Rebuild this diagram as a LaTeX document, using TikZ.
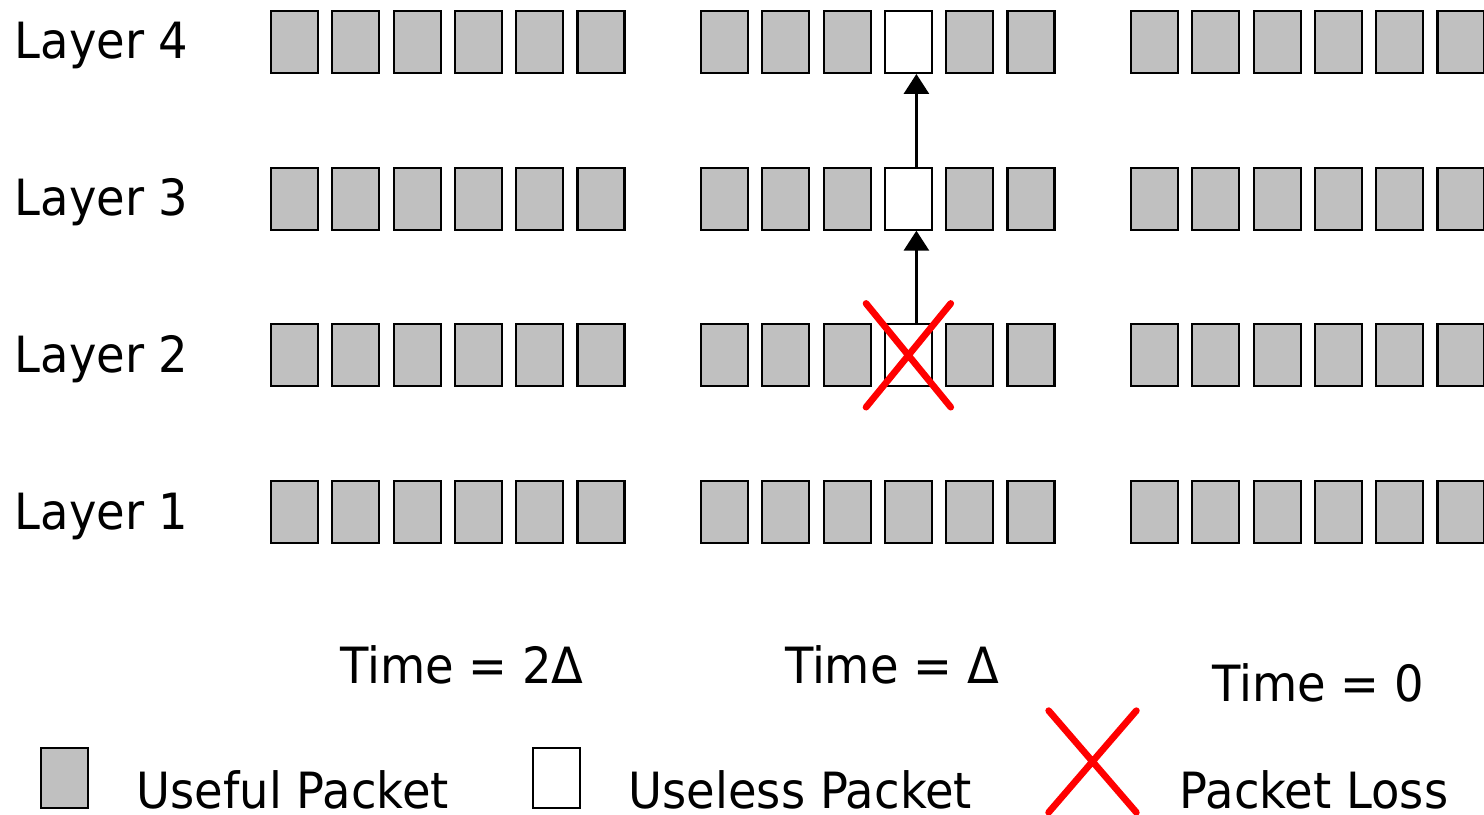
\documentclass[tikz,border=0pt]{standalone}
\usepackage{fontspec}
\setmainfont{DejaVu Sans}[FakeStretch=0.93]
\usetikzlibrary{arrows.meta,shapes.misc}
\definecolor{pktgray}{HTML}{C0C0C0}
\definecolor{lossred}{HTML}{FF0000}
\tikzset{
  pkt/.style={draw, line width=0.6pt, fill=pktgray, minimum width=0.47cm, minimum height=0.62cm, inner sep=0pt},
  useless/.style={pkt, fill=white},
  lossmark/.style={cross out, draw=lossred, line width=1.9pt, line cap=round, minimum width=0.78cm, minimum height=0.97cm, inner sep=0pt},
  lbl/.style={anchor=base west, inner sep=0pt},
  tlbl/.style={anchor=base, inner sep=0pt},
  up/.style={-{Triangle[length=0.2cm,width=0.25cm]}, line width=0.85pt}
}
\begin{document}
\begin{tikzpicture}[x=0.01cm, y=-0.01cm, font=\fontsize{14.2}{17}\selectfont]
  \useasboundingbox (0,0) rectangle (1484,814);
  % packets: group g, layer r, slot s
  \foreach \g in {0,1,2}
    \foreach \r in {1,...,4}
      \foreach \s in {0,...,5} {
        \def\kind{pkt}
        \ifnum\g=1 \ifnum\s=3 \ifnum\r>1 \def\kind{useless}\fi\fi\fi
        \node[\kind] (p-\g-\r-\s) at ({294.5+430*\g+61.3*\s},{512-156.7*(\r-1)}) {};
      }
  \foreach \r in {1,...,4}
    \node[lbl] (layer\r) at (14,{529-156.7*(\r-1)}) {Layer \r};
  % loss in layer 2 propagates upwards
  \node[lossmark] (loss) at (p-1-2-3) {};
  \draw[up] ([xshift=0.08cm]p-1-2-3.north) -- ([xshift=0.08cm]p-1-3-3.south);
  \draw[up] ([xshift=0.08cm]p-1-3-3.north) -- ([xshift=0.08cm]p-1-4-3.south);
  \node[tlbl] (time2) at (462,683) {Time = 2Δ};
  \node[tlbl] (time1) at (892,683) {Time = Δ};
  \node[tlbl] (time0) at (1318,701) {Time = 0};
  % legend
  \node[pkt, minimum height=0.6cm] (legUseful) at (64.5,778) {};
  \node[lbl] (txtUseful) at (136,808) {Useful Packet};
  \node[useless, minimum height=0.6cm] (legUseless) at (556.5,778) {};
  \node[lbl] (txtUseless) at (628,808) {Useless Packet};
  \node[lossmark, minimum width=0.81cm, minimum height=0.95cm] (legLoss) at (1092.5,761.5) {};
  \node[lbl] (txtLoss) at (1179,808) {Packet Loss};
\end{tikzpicture}
\end{document}
